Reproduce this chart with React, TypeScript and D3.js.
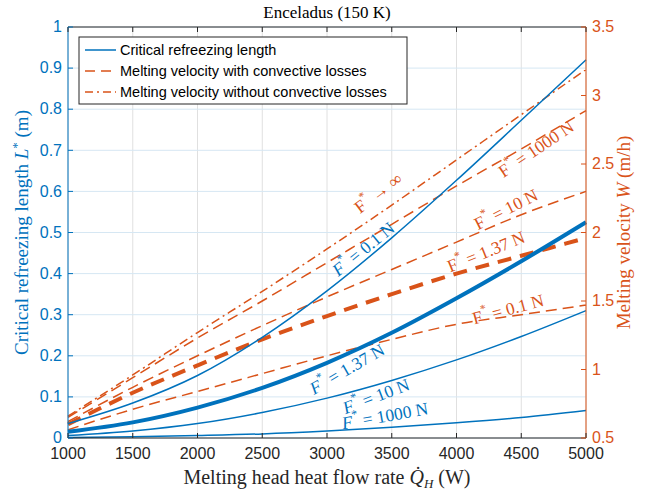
import * as d3 from "d3";

// heat flow rate Q_H (W)
const heatFlow = [1000, 1500, 2000, 2500, 3000, 3500, 4000, 4500, 5000];

// critical refreezing length L* (m), left axis
const lenF01 = [0.035, 0.085, 0.152, 0.245, 0.358, 0.487, 0.627, 0.773, 0.92];
const lenF137 = [0.015, 0.038, 0.074, 0.122, 0.183, 0.256, 0.34, 0.43, 0.525];
const lenF10 = [0.006, 0.017, 0.035, 0.062, 0.097, 0.14, 0.19, 0.247, 0.31];
const lenF1000 = [0.001, 0.003, 0.006, 0.01, 0.017, 0.026, 0.037, 0.05, 0.067];

// melting velocity W (m/h), right axis
const velInf = [0.66, 0.96, 1.27, 1.57, 1.88, 2.2, 2.53, 2.86, 3.19];
const velF1000 = [0.65, 0.94, 1.23, 1.5, 1.78, 2.06, 2.34, 2.61, 2.89];
const velF10 = [0.62, 0.87, 1.1, 1.32, 1.53, 1.73, 1.93, 2.13, 2.3];
const velF137 = [0.6, 0.83, 1.03, 1.22, 1.39, 1.55, 1.7, 1.83, 1.96];
const velF01 = [0.56, 0.71, 0.84, 0.97, 1.1, 1.22, 1.33, 1.4, 1.47];

const xTicks = [1000, 1500, 2000, 2500, 3000, 3500, 4000, 4500, 5000];
const leftTicks = [0, 0.1, 0.2, 0.3, 0.4, 0.5, 0.6, 0.7, 0.8, 0.9, 1];
const rightTicks = [0.5, 1, 1.5, 2, 2.5, 3, 3.5];

const legendItems = [
  "Critical refreezing length",
  "Melting velocity with convective losses",
  "Melting velocity without convective losses",
];

// annotation anchors in data units
const blueLabels = [
  { text: " = 0.1 N", q: 3280, v: 0.46, angle: -39 },
  { text: " = 1.37 N", q: 3154, v: 0.168, angle: -30 },
  { text: " = 10 N", q: 3378, v: 0.102, angle: -21 },
  { text: " = 1000 N", q: 3448, v: 0.054, angle: -10 },
];
const orangeLabels = [
  { text: " \u2192 \u221E", q: 3394, v: 2.29, angle: -37 },
  { text: " = 1000 N", q: 4614, v: 2.61, angle: -34 },
  { text: " = 10 N", q: 4382, v: 2.17, angle: -27 },
  { text: " = 1.37 N", q: 4228, v: 1.86, angle: -22 },
  { text: " = 0.1 N", q: 4398, v: 1.44, angle: -15 },
];

const BLUE = "#0072BD";
const ORANGE = "#D95319";
const DARK = "#262626";
const SANS = "'Liberation Sans', Arial, sans-serif";
const SERIF = "'Liberation Serif', 'Times New Roman', serif";

const W = 669;
const H = 494;
const m = { left: 68, right: 83, top: 27, bottom: 56 };

export default function App() {
  const x = d3.scaleLinear().domain([1000, 5000]).range([m.left, W - m.right]);
  const yL = d3.scaleLinear().domain([0, 1]).range([H - m.bottom, m.top]);
  const yR = d3.scaleLinear().domain([0.5, 3.5]).range([H - m.bottom, m.top]);
  const x0 = m.left, x1 = W - m.right, y0 = H - m.bottom, y1 = m.top;

  const lineL = (vals: number[]) =>
    d3.line<number>().x((_, i) => x(heatFlow[i])).y((d) => yL(d)).curve(d3.curveMonotoneX)(vals) || "";
  const lineR = (vals: number[]) =>
    d3.line<number>().x((_, i) => x(heatFlow[i])).y((d) => yR(d)).curve(d3.curveMonotoneX)(vals) || "";

  const lx = 79, ly = 37, lw = 328, lh = 67;

  return (
    <svg width={W} height={H} style={{ position: "absolute", left: 0, top: 0, background: "#fff" }}>
      {/* grid */}
      {xTicks.map((t) => (
        <line key={"gx" + t} x1={x(t)} x2={x(t)} y1={y0} y2={y1} stroke="#e0e0e0" strokeWidth={1} />
      ))}
      {leftTicks.map((t) => (
        <line key={"gy" + t} x1={x0} x2={x1} y1={yL(t)} y2={yL(t)} stroke="#d6e7f3" strokeWidth={1} />
      ))}

      {/* orange velocity curves */}
      <g fill="none" stroke={ORANGE}>
        <path d={lineR(velInf)} strokeWidth={1.5} strokeDasharray="9 4 2 4" />
        <path d={lineR(velF1000)} strokeWidth={1.5} strokeDasharray="11 6" />
        <path d={lineR(velF10)} strokeWidth={1.5} strokeDasharray="11 6" />
        <path d={lineR(velF137)} strokeWidth={4} strokeDasharray="14 9" />
        <path d={lineR(velF01)} strokeWidth={1.5} strokeDasharray="11 6" />
      </g>

      {/* blue length curves */}
      <g fill="none" stroke={BLUE}>
        <path d={lineL(lenF01)} strokeWidth={1.5} />
        <path d={lineL(lenF137)} strokeWidth={4} />
        <path d={lineL(lenF10)} strokeWidth={1.5} />
        <path d={lineL(lenF1000)} strokeWidth={1.5} />
      </g>

      {/* annotations */}
      <g fontFamily={SERIF} fontSize={17.5}>
        {blueLabels.map((l, i) => (
          <text key={"bl" + i} fill={BLUE} textAnchor="middle" dominantBaseline="central"
            transform={`translate(${x(l.q)},${yL(l.v)}) rotate(${l.angle})`}>
            <tspan fontStyle="italic">F</tspan>
            <tspan fontSize={12} dy={-7}>*</tspan>
            <tspan dy={7}>{l.text}</tspan>
          </text>
        ))}
        {orangeLabels.map((l, i) => (
          <text key={"ol" + i} fill={ORANGE} textAnchor="middle" dominantBaseline="central"
            transform={`translate(${x(l.q)},${yR(l.v)}) rotate(${l.angle})`}>
            <tspan>F</tspan>
            <tspan fontSize={12} dy={-7}>*</tspan>
            <tspan dy={7}>{l.text}</tspan>
          </text>
        ))}
      </g>

      {/* axes box */}
      <line x1={x0} x2={x1} y1={y1} y2={y1} stroke={DARK} strokeWidth={1} />
      <line x1={x0} x2={x1} y1={y0} y2={y0} stroke={DARK} strokeWidth={1} />
      <line x1={x0} x2={x0} y1={y0} y2={y1} stroke={BLUE} strokeWidth={1} />
      <line x1={x1} x2={x1} y1={y0} y2={y1} stroke={ORANGE} strokeWidth={1} />

      {/* x ticks */}
      <g fontFamily={SANS} fontSize={16} fill={DARK}>
        {xTicks.map((t) => (
          <g key={"xt" + t}>
            <line x1={x(t)} x2={x(t)} y1={y0} y2={y0 - 5} stroke={DARK} />
            <line x1={x(t)} x2={x(t)} y1={y1} y2={y1 + 5} stroke={DARK} />
            <text x={x(t)} y={y0 + 21} textAnchor="middle">{t}</text>
          </g>
        ))}
      </g>
      {/* left ticks */}
      <g fontFamily={SANS} fontSize={16} fill={BLUE}>
        {leftTicks.map((t) => (
          <g key={"lt" + t}>
            <line x1={x0} x2={x0 + 5} y1={yL(t)} y2={yL(t)} stroke={BLUE} />
            <text x={x0 - 6} y={yL(t)} dy="0.33em" textAnchor="end">{d3.format("~g")(t)}</text>
          </g>
        ))}
      </g>
      {/* right ticks */}
      <g fontFamily={SANS} fontSize={16} fill={ORANGE}>
        {rightTicks.map((t) => (
          <g key={"rt" + t}>
            <line x1={x1} x2={x1 - 5} y1={yR(t)} y2={yR(t)} stroke={ORANGE} />
            <text x={x1 + 6} y={yR(t)} dy="0.33em" textAnchor="start">{d3.format("~g")(t)}</text>
          </g>
        ))}
      </g>

      {/* title and axis labels */}
      <g fontFamily={SERIF}>
        <text x={(x0 + x1) / 2} y={18} fontSize={17} textAnchor="middle" fill="#000">Enceladus (150 K)</text>
        <text x={(x0 + x1) / 2} y={484} fontSize={20} textAnchor="middle" fill={DARK}>
          {"Melting head heat flow rate "}
          <tspan fontStyle="italic">{"Q\u0307"}</tspan>
          <tspan fontStyle="italic" fontSize={13} dy={4}>H</tspan>
          <tspan dy={-4}>{" (W)"}</tspan>
        </text>
        <text transform={`translate(28,${(y0 + y1) / 2}) rotate(-90)`} fontSize={19} textAnchor="middle" fill={BLUE}>
          {"Critical refreezing length "}
          <tspan fontStyle="italic">L</tspan>
          <tspan fontSize={13} dy={-7}>*</tspan>
          <tspan dy={7}>{" (m)"}</tspan>
        </text>
        <text transform={`translate(630,${(y0 + y1) / 2}) rotate(-90)`} fontSize={19} textAnchor="middle" fill={ORANGE}>
          {"Melting velocity "}
          <tspan fontStyle="italic">W</tspan>
          {" (m/h)"}
        </text>
      </g>

      {/* legend */}
      <g fontFamily={SANS} fontSize={14.5}>
        <rect x={lx} y={ly} width={lw} height={lh} fill="#fff" stroke={DARK} strokeWidth={1} />
        {legendItems.map((txt, i) => {
          const yy = ly + 13 + i * 21;
          return (
            <g key={"lg" + i}>
              <line x1={lx + 6} x2={lx + 37} y1={yy} y2={yy}
                stroke={i === 0 ? BLUE : ORANGE} strokeWidth={1.5}
                strokeDasharray={i === 0 ? undefined : i === 1 ? "10 6" : "8 4 2 4"} />
              <text x={lx + 41} y={yy} dy="0.35em" fill="#000">{txt}</text>
            </g>
          );
        })}
      </g>
    </svg>
  );
}
